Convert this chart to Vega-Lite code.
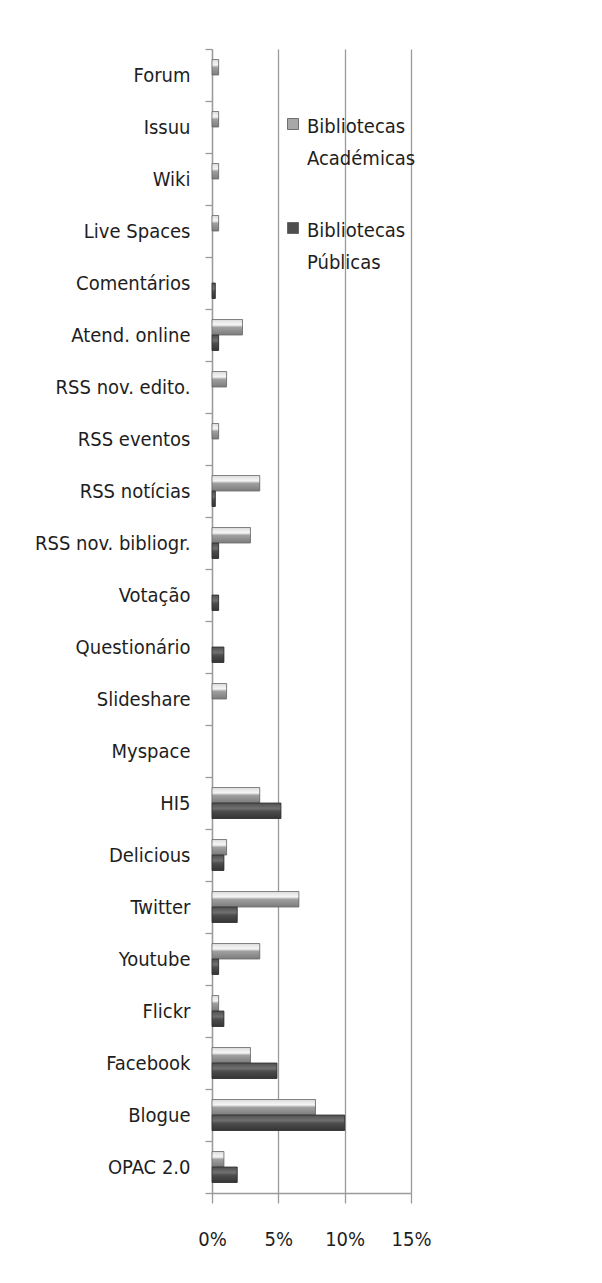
{
  "$schema": "https://vega.github.io/schema/vega-lite/v6.json",
  "width": 199,
  "height": 1144,
  "autosize": {"type": "none"},
  "padding": {"left": 212, "top": 49, "right": 191, "bottom": 90},
  "background": "white",
  "config": {
    "view": {"stroke": null},
    "font": "DejaVu Sans Condensed, sans-serif",
    "axis": {
      "labelFont": "DejaVu Sans Condensed, sans-serif",
      "labelFontSize": 20,
      "labelColor": "#1e1e1e",
      "domainColor": "#9a9a9a",
      "domainWidth": 1.3,
      "tickColor": "#9a9a9a",
      "tickWidth": 1.3,
      "gridColor": "#9a9a9a",
      "gridWidth": 1.3
    }
  },
  "data": {
    "values": [
      {"recurso": "Forum", "tipo": "Bibliotecas Académicas", "valor": 0.005},
      {"recurso": "Issuu", "tipo": "Bibliotecas Académicas", "valor": 0.005},
      {"recurso": "Wiki", "tipo": "Bibliotecas Académicas", "valor": 0.005},
      {"recurso": "Live Spaces", "tipo": "Bibliotecas Académicas", "valor": 0.005},
      {"recurso": "Comentários", "tipo": "Bibliotecas Públicas", "valor": 0.0025},
      {"recurso": "Atend. online", "tipo": "Bibliotecas Académicas", "valor": 0.023},
      {"recurso": "Atend. online", "tipo": "Bibliotecas Públicas", "valor": 0.005},
      {"recurso": "RSS nov. edito.", "tipo": "Bibliotecas Académicas", "valor": 0.011},
      {"recurso": "RSS eventos", "tipo": "Bibliotecas Académicas", "valor": 0.005},
      {"recurso": "RSS notícias", "tipo": "Bibliotecas Académicas", "valor": 0.036},
      {"recurso": "RSS notícias", "tipo": "Bibliotecas Públicas", "valor": 0.0025},
      {"recurso": "RSS nov. bibliogr.", "tipo": "Bibliotecas Académicas", "valor": 0.029},
      {"recurso": "RSS nov. bibliogr.", "tipo": "Bibliotecas Públicas", "valor": 0.005},
      {"recurso": "Votação", "tipo": "Bibliotecas Públicas", "valor": 0.005},
      {"recurso": "Questionário", "tipo": "Bibliotecas Públicas", "valor": 0.009},
      {"recurso": "Slideshare", "tipo": "Bibliotecas Académicas", "valor": 0.011},
      {"recurso": "HI5", "tipo": "Bibliotecas Académicas", "valor": 0.036},
      {"recurso": "HI5", "tipo": "Bibliotecas Públicas", "valor": 0.052},
      {"recurso": "Delicious", "tipo": "Bibliotecas Académicas", "valor": 0.011},
      {"recurso": "Delicious", "tipo": "Bibliotecas Públicas", "valor": 0.009},
      {"recurso": "Twitter", "tipo": "Bibliotecas Académicas", "valor": 0.0655},
      {"recurso": "Twitter", "tipo": "Bibliotecas Públicas", "valor": 0.019},
      {"recurso": "Youtube", "tipo": "Bibliotecas Académicas", "valor": 0.036},
      {"recurso": "Youtube", "tipo": "Bibliotecas Públicas", "valor": 0.005},
      {"recurso": "Flickr", "tipo": "Bibliotecas Académicas", "valor": 0.005},
      {"recurso": "Flickr", "tipo": "Bibliotecas Públicas", "valor": 0.009},
      {"recurso": "Facebook", "tipo": "Bibliotecas Académicas", "valor": 0.029},
      {"recurso": "Facebook", "tipo": "Bibliotecas Públicas", "valor": 0.049},
      {"recurso": "Blogue", "tipo": "Bibliotecas Académicas", "valor": 0.078},
      {"recurso": "Blogue", "tipo": "Bibliotecas Públicas", "valor": 0.1},
      {"recurso": "OPAC 2.0", "tipo": "Bibliotecas Académicas", "valor": 0.009},
      {"recurso": "OPAC 2.0", "tipo": "Bibliotecas Públicas", "valor": 0.019}
    ]
  },
  "encoding": {
    "y": {
      "field": "recurso",
      "type": "nominal",
      "scale": {
        "domain": ["Forum", "Issuu", "Wiki", "Live Spaces", "Comentários", "Atend. online", "RSS nov. edito.", "RSS eventos", "RSS notícias", "RSS nov. bibliogr.", "Votação", "Questionário", "Slideshare", "Myspace", "HI5", "Delicious", "Twitter", "Youtube", "Flickr", "Facebook", "Blogue", "OPAC 2.0"],
        "paddingInner": 0,
        "paddingOuter": 0
      },
      "axis": {
        "title": null,
        "tickBand": "extent",
        "tickSize": 7,
        "labelPadding": 15,
        "grid": false,
        "labelLimit": 300
      }
    },
    "yOffset": {
      "field": "tipo",
      "type": "nominal",
      "scale": {
        "domain": ["Bibliotecas Académicas", "Bibliotecas Públicas"],
        "paddingInner": 0,
        "paddingOuter": 0.68
      }
    },
    "x": {
      "field": "valor",
      "type": "quantitative",
      "scale": {"domain": [0, 0.15], "nice": false},
      "axis": {
        "title": null,
        "values": [0, 0.05, 0.1, 0.15],
        "format": ".0%",
        "tickSize": 10,
        "labelPadding": 26,
        "labelOverlap": false,
        "labelFlush": false,
        "grid": true
      }
    }
  },
  "layer": [
    {
      "mark": {"type": "bar"},
      "encoding": {
        "color": {
          "field": "tipo",
          "type": "nominal",
          "scale": {
            "domain": ["Bibliotecas Académicas", "Bibliotecas Públicas"],
            "range": ["#a8a8a8", "#4e4e4e"]
          },
          "legend": {
            "title": null,
            "orient": "none",
            "legendX": 71,
            "legendY": 65,
            "padding": 0,
            "symbolType": "square",
            "symbolSize": 121,
            "symbolStrokeColor": "#555555",
            "symbolStrokeWidth": 0.8,
            "labelFont": "DejaVu Sans Condensed, sans-serif",
            "labelFontSize": 20,
            "labelColor": "#1e1e1e",
            "labelOffset": 4,
            "labelLimit": 300,
            "rowPadding": 49,
            "labelExpr": "split(datum.label, ' ')",
            "encode": {
              "labels": {"update": {"lineHeight": {"value": 32}, "dy": {"value": 3}}}
            }
          }
        }
      }
    },
    {
      "transform": [{"filter": "datum.tipo === 'Bibliotecas Académicas'"}],
      "mark": {
        "type": "bar",
        "stroke": "#6a6a6a",
        "strokeWidth": 0.8,
        "fill": {"gradient": "linear", "x1": 0, "y1": 0, "x2": 0, "y2": 1, "stops": [
          {"offset": 0, "color": "#dcdcdc"},
          {"offset": 0.35, "color": "#f6f6f6"},
          {"offset": 0.5, "color": "#a0a0a0"},
          {"offset": 1, "color": "#7c7c7c"}
        ]}
      }
    },
    {
      "transform": [{"filter": "datum.tipo === 'Bibliotecas Públicas'"}],
      "mark": {
        "type": "bar",
        "stroke": "#2e2e2e",
        "strokeWidth": 0.8,
        "fill": {"gradient": "linear", "x1": 0, "y1": 0, "x2": 0, "y2": 1, "stops": [
          {"offset": 0, "color": "#505050"},
          {"offset": 0.35, "color": "#707070"},
          {"offset": 0.55, "color": "#4c4c4c"},
          {"offset": 1, "color": "#353535"}
        ]}
      }
    }
  ]
}
